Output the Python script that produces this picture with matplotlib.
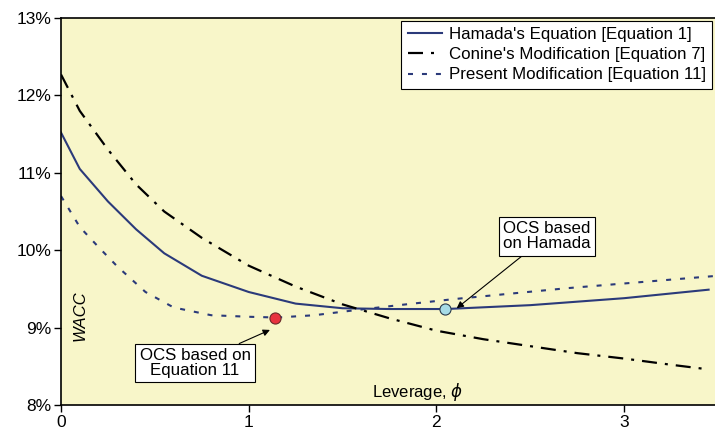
import numpy as np
import matplotlib.pyplot as plt

plt.rcParams['font.family'] = ['Liberation Sans', 'DejaVu Sans']
plt.rcParams['mathtext.fontset'] = 'dejavusans'

# 数据 (杠杆率 vs WACC, 单位 %)
hamada_x = [0, 0.1, 0.25, 0.4, 0.55, 0.75, 1.0, 1.25, 1.5, 1.75, 2.05, 2.5, 3.0, 3.45]
hamada_y = [11.52, 11.05, 10.63, 10.27, 9.96, 9.67, 9.46, 9.31, 9.25, 9.24, 9.24, 9.29, 9.38, 9.49]

conine_x = [0, 0.1, 0.25, 0.4, 0.55, 0.75, 1.0, 1.25, 1.5, 1.75, 2.0, 2.25, 2.5, 2.75, 3.0, 3.25, 3.45]
conine_y = [12.27, 11.8, 11.3, 10.85, 10.5, 10.16, 9.8, 9.53, 9.3, 9.12, 8.96, 8.85, 8.76, 8.67, 8.6, 8.52, 8.46]

present_x = [0, 0.1, 0.2, 0.3, 0.45, 0.6, 0.8, 1.0, 1.15, 1.35, 1.55, 1.8, 2.1, 2.4, 2.7, 3.0, 3.5]
present_y = [10.7, 10.3, 10.04, 9.79, 9.46, 9.26, 9.16, 9.14, 9.13, 9.16, 9.22, 9.29, 9.37, 9.44, 9.51, 9.57, 9.67]

labels = ["Hamada's Equation [Equation 1]",
          "Conine's Modification [Equation 7]",
          "Present Modification [Equation 11]"]

ocs_eq11 = (1.14, 9.13)
ocs_hamada = (2.046, 9.24)

xticks = [0, 1, 2, 3]
yticks = [8, 9, 10, 11, 12, 13]

navy = '#2b3a7a'

fig = plt.figure(figsize=(7.15, 4.33), dpi=100)
ax = fig.add_axes([61 / 715, 28 / 433, 654 / 715, 387 / 433])
ax.set_facecolor('#f8f6c9')

ax.plot(hamada_x, hamada_y, color=navy, lw=1.5, label=labels[0])
ax.plot(conine_x, conine_y, color='black', lw=1.6, dashes=(6.75, 3.6, 1.35, 3.6), label=labels[1])
ax.plot(present_x, present_y, color=navy, lw=1.5, dashes=(2.4, 4.3), label=labels[2])

# 最优资本结构点
ax.plot(*ocs_eq11, 'o', ms=8, mfc='#e8323f', mec='#6a2a2a', mew=0.8, zorder=5)
ax.plot(*ocs_hamada, 'o', ms=8, mfc='#a6dbe6', mec='#2a3a4a', mew=0.8, zorder=5)

box = dict(boxstyle='square,pad=0.25', fc='white', ec='black', lw=0.8)
arrow = dict(arrowstyle='-|>', color='black', lw=0.8, mutation_scale=10,
             shrinkA=0, shrinkB=0)
ax.annotate('OCS based on\nEquation 11', xy=(1.113, 8.97), xytext=(0.714, 8.54),
            ha='center', va='center', fontsize=12.2, bbox=box, arrowprops=arrow,
            linespacing=1.0)
ax.annotate('OCS based\non Hamada', xy=(2.108, 9.25), xytext=(2.587, 10.18),
            ha='center', va='center', fontsize=12.2, bbox=box, arrowprops=arrow,
            linespacing=1.0)

ax.text(0.1, 9.16, 'WACC', rotation=90, style='italic', fontsize=12,
        ha='center', va='center')
ax.text(1.657, 8.17, r'Leverage, $\phi$', fontsize=12, ha='left', va='center')

ax.set_xlim(0, 3.484)
ax.set_ylim(8, 13)
ax.set_xticks(xticks)
ax.set_yticks(yticks)
ax.set_yticklabels([f'{v}%' for v in yticks])
ax.tick_params(direction='out', length=5, width=1, labelsize=12.5, pad=2)
ax.spines['right'].set_visible(False)
for s in ['left', 'bottom', 'top']:
    ax.spines[s].set_linewidth(1.2)

leg = ax.legend(loc='upper right', fontsize=12.2, frameon=True, fancybox=False,
                borderaxespad=0.15, handlelength=2.0, labelspacing=0.3,
                borderpad=0.4, handletextpad=0.4)
leg.get_frame().set_edgecolor('black')
leg.get_frame().set_linewidth(0.8)
leg.get_frame().set_alpha(1)

fig.savefig('out.png', dpi=100)
